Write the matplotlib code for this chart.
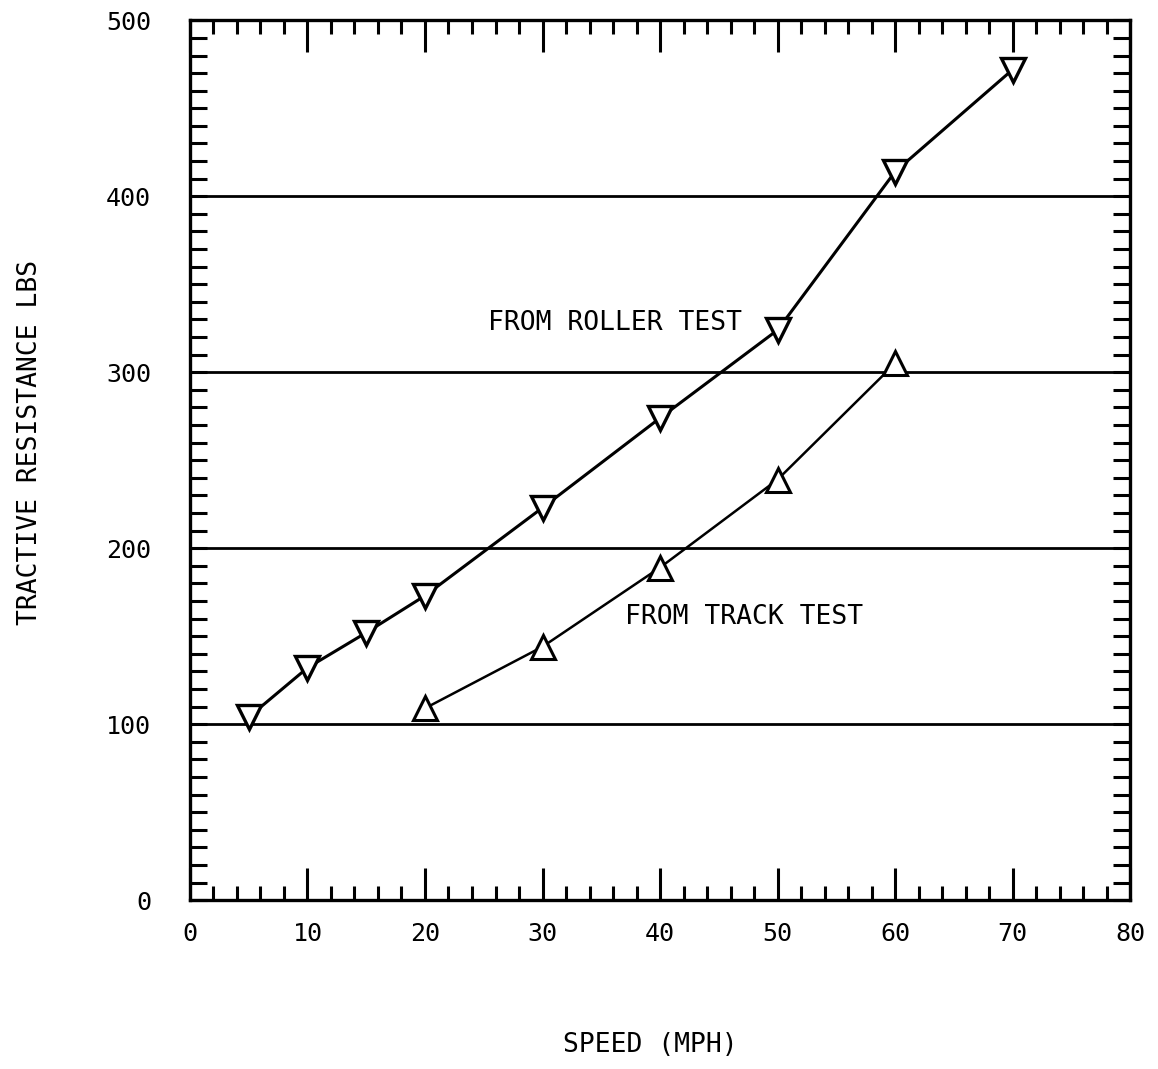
#!/usr/bin/env python3
"""Tractive resistance vs speed: roller test against track test."""

import matplotlib

matplotlib.use("Agg")
import matplotlib.pyplot as plt
from matplotlib.ticker import MultipleLocator

FONT = ["DejaVu Sans Mono"]
plt.rcParams.update({"font.family": FONT})

# values
roller_speed = [5, 10, 15, 20, 30, 40, 50, 60, 70]
roller_force = [104, 132, 152, 173, 223, 274, 324, 414, 472]

track_speed = [20, 30, 40, 50, 60]
track_force = [109, 144, 189, 239, 305]

x_ticks = [0, 10, 20, 30, 40, 50, 60, 70, 80]
y_ticks = [0, 100, 200, 300, 400, 500]
grid_levels = [100, 200, 300, 400]

fig = plt.figure(figsize=(11.58, 10.69), dpi=100)
ax = fig.add_axes([0.164, 0.158, 0.812, 0.823])

for level in grid_levels:
    ax.axhline(level, color="black", linewidth=2.0, zorder=1)

ax.plot(roller_speed, roller_force, color="black", linewidth=2.2, zorder=2,
        marker="v", markersize=17, markerfacecolor="white",
        markeredgecolor="black", markeredgewidth=2.4)
ax.plot(track_speed, track_force, color="black", linewidth=1.8, zorder=2,
        marker="^", markersize=17, markerfacecolor="white",
        markeredgecolor="black", markeredgewidth=2.2)

ax.text(25.4, 328, "FROM ROLLER TEST", fontsize=19, ha="left", va="center")
ax.text(37.0, 161, "FROM TRACK TEST", fontsize=19, ha="left", va="center")

ax.set_xlim(0, 80)
ax.set_ylim(0, 500)
ax.set_xticks(x_ticks)
ax.set_yticks(y_ticks)
ax.xaxis.set_minor_locator(MultipleLocator(2))
ax.yaxis.set_minor_locator(MultipleLocator(10))

ax.tick_params(axis="x", which="major", direction="in", length=23, width=2.2,
               top=True, bottom=True, labelsize=18, pad=16)
ax.tick_params(axis="x", which="minor", direction="in", length=10, width=2.2,
               top=True, bottom=True)
ax.tick_params(axis="y", which="major", direction="in", length=12, width=2.2,
               left=True, right=True, labelsize=18, pad=28)
ax.tick_params(axis="y", which="minor", direction="in", length=12, width=2.2,
               left=True, right=True)

for side in ["top", "bottom", "left", "right"]:
    ax.spines[side].set_linewidth(2.4)

fig.text(0.562, 0.022, "SPEED (MPH)", fontsize=19, ha="center", va="center")
fig.text(0.026, 0.586, "TRACTIVE RESISTANCE LBS", fontsize=19, ha="center",
         va="center", rotation=90)

fig.savefig("out.png", dpi=100)
